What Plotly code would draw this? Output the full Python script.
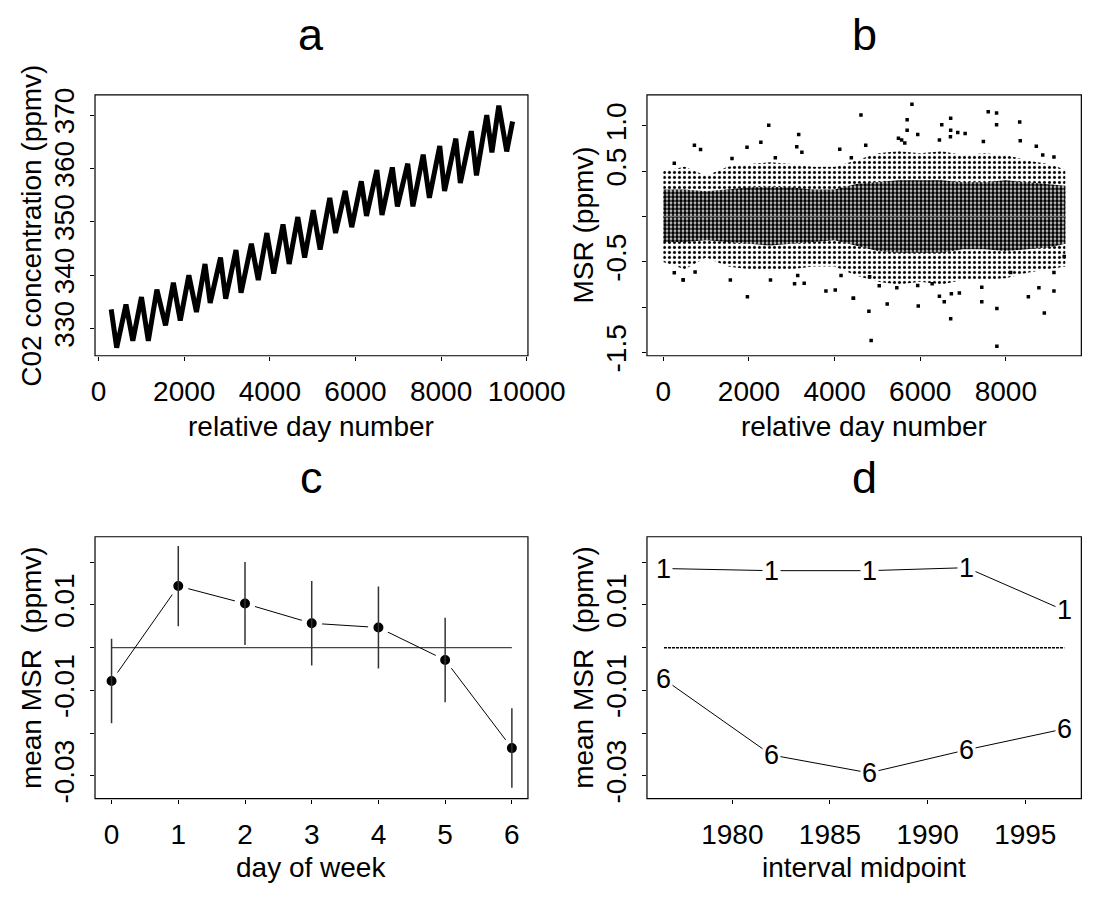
import plotly.graph_objects as go

W, H = 1108, 899
FONT = "Liberation Sans, Arial, Helvetica, sans-serif"

# ---------------- panel a: CO2 concentration (peaks / troughs)
a_day = [295, 423, 640, 800, 1002, 1162, 1362, 1564, 1747, 1908, 2109, 2286, 2486, 2607,
         2848, 2969, 3210, 3328, 3569, 3730, 3931, 4091, 4308, 4452, 4654, 4813, 5014, 5175,
         5400, 5535, 5760, 5913, 6137, 6258, 6499, 6620, 6861, 6980, 7221, 7342, 7582, 7726,
         7969, 8081, 8344, 8449, 8706, 8826, 9067, 9187, 9348, 9533, 9670]
a_co2 = [333.6, 326.4, 334.5, 327.7, 335.9, 327.7, 337.3, 330.6, 338.6, 331.5, 340.0, 333.1,
         342.1, 334.8, 343.3, 335.6, 344.7, 336.7, 345.9, 339.1, 347.9, 340.3, 349.5, 342.1,
         350.9, 343.3, 352.2, 344.8, 354.5, 347.9, 355.8, 349.0, 357.6, 351.1, 359.7, 351.3,
         360.2, 352.9, 360.9, 352.9, 362.6, 354.5, 364.2, 355.8, 365.6, 357.3, 367.0, 358.7,
         370.0, 363.0, 371.8, 363.2, 368.8]
a_xticks = [0, 2000, 4000, 6000, 8000, 10000]
a_xlabels = ["0", "2000", "4000", "6000", "8000", "10000"]
a_yticks = [330, 340, 350, 360, 370]

# ---------------- panel b: MSR scatter (cloud envelopes + individual outliers)
b_bin_day = [0, 500, 1000, 1500, 2000, 2500, 3000, 3500, 4000, 4500, 5000, 5500, 6000,
             6500, 7000, 7500, 8000, 8500, 9000, 9390]
b_core_hi = [0.30, 0.30, 0.28, 0.30, 0.32, 0.33, 0.32, 0.30, 0.30, 0.36, 0.38, 0.40, 0.40,
             0.40, 0.38, 0.38, 0.40, 0.38, 0.36, 0.34]
b_core_lo = [-0.28, -0.28, -0.26, -0.28, -0.30, -0.32, -0.30, -0.28, -0.26, -0.32, -0.38,
             -0.40, -0.40, -0.40, -0.36, -0.36, -0.38, -0.36, -0.34, -0.30]
b_outer_hi = [0.50, 0.55, 0.45, 0.55, 0.58, 0.60, 0.58, 0.55, 0.55, 0.62, 0.70, 0.72, 0.70,
              0.72, 0.68, 0.70, 0.68, 0.62, 0.58, 0.52]
b_outer_lo = [-0.50, -0.58, -0.45, -0.55, -0.58, -0.60, -0.58, -0.55, -0.55, -0.65, -0.72,
              -0.75, -0.72, -0.75, -0.70, -0.70, -0.68, -0.62, -0.58, -0.55]
b_out_day = [2462, 726, 870, 3162, 2278, 1955, 4121, 3117, 3236, 1604, 2616, 256, 4391,
             1964, 4436, 4016, 3798, 465, 256, 1566, 2503, 3065, 3290, 3139, 4151, 742, 465,
             5807, 7589, 7784, 4616, 7784, 8324, 5695, 6712, 5695, 5942, 6503, 6712, 6877,
             7050, 6706, 6449, 5492, 5566, 8337, 7476, 4728, 5640, 8712, 9124, 8862,
             4854, 7791, 4802, 8899, 5229, 5955, 6712, 7791, 7438, 8526, 6449, 6915, 6728,
             4443, 9124, 8773, 5454, 5942, 5043, 4818, 6279, 6562, 7438, 8112, 9124, 9364]
b_out_msr = [1.007, 0.786, 0.74, 0.907, 0.82, 0.765, 0.743, 0.77, 0.71, 0.64, 0.65, 0.59,
             0.65, -0.885, -0.90, -0.81, -0.82, -0.70, -0.62, -0.70, -0.70, -0.74, -0.735,
             -0.65, -0.65, -0.61, -0.696,
             1.24, 1.157, 1.143, 1.12, 1.014, 1.043, 1.07, 1.086, 0.953, 0.907, 1.014, 0.953,
             0.929, 0.918, 0.882, 0.846, 0.864, 0.846, 0.836, 0.829, 0.786, 0.811, 0.775,
             0.657, 0.679,
             -1.367, -1.431, -1.045, -1.064, -0.964, -0.985, -1.128, -1.013, -0.939, -0.885,
             -0.878, -0.842, -0.85, -0.90, -0.82, -0.785, -0.785, -0.76, -0.764, -0.664,
             -0.742, -0.939, -0.778, -0.617, -0.617, -0.44]
b_xticks = [0, 2000, 4000, 6000, 8000, 10000]
b_xlabels = ["0", "2000", "4000", "6000", "8000", "10000"]
b_yticks = [-1.5, -1.0, -0.5, 0.0, 0.5, 1.0]
b_ylabels = ["-1.5", "", "-0.5", "", "0.5", "1.0"]

# ---------------- panel c: mean MSR by day of week
c_day = [0, 1, 2, 3, 4, 5, 6]
c_mean = [-0.0078, 0.0144, 0.0103, 0.0057, 0.0047, -0.0029, -0.0235]
c_err = [0.0099, 0.0094, 0.0097, 0.0099, 0.0096, 0.0099, 0.0093]
cd_yticks = [-0.03, -0.02, -0.01, 0.0, 0.01, 0.02]
cd_ylabels = ["-0.03", "", "-0.01", "", "0.01", ""]

# ---------------- panel d: mean MSR for days 1 and 6 by interval
d_mid = [1976.5, 1982.0, 1987.0, 1992.0, 1997.0]
d_day1 = [0.0185, 0.0180, 0.0180, 0.0187, 0.0087]
d_day6 = [-0.0074, -0.0251, -0.0293, -0.0239, -0.0190]
d_xticks = [1980, 1985, 1990, 1995]


def px(v):
    return v / W


def py(v):
    return 1 - v / H


# plot boxes in pixels (left, right, top, bottom); right panels run past the edge
A_L, A_R, TOP1, BOT1 = 94.6, 544.6, 90.3, 358.3
B_L, B_R = 668.3, 1119.8
TOP2, BOT2 = 544.3, 813.3
TICK = 28
LAB = 28

fig = go.Figure()

# a
fig.add_trace(go.Scatter(x=a_day, y=a_co2, mode="lines",
                         line=dict(color="black", width=5), xaxis="x", yaxis="y"))

# b cloud
fig.add_trace(go.Scatter(x=b_bin_day + b_bin_day[::-1], y=b_outer_hi + b_outer_lo[::-1],
                         mode="lines", fill="toself", line=dict(width=0, color="rgba(0,0,0,0)"),
                         fillcolor="rgba(0,0,0,0)",
                         fillpattern=dict(shape=".", fgcolor="black", bgcolor="rgba(0,0,0,0)",
                                          size=5, solidity=0.3, fillmode="replace"),
                         xaxis="x2", yaxis="y2"))
fig.add_trace(go.Scatter(x=b_bin_day + b_bin_day[::-1], y=b_core_hi + b_core_lo[::-1],
                         mode="lines", fill="toself", line=dict(width=0, color="rgba(0,0,0,0)"),
                         fillcolor="rgba(0,0,0,0)",
                         fillpattern=dict(shape=".", fgcolor="black", bgcolor="white",
                                          size=4, solidity=0.7, fillmode="replace"),
                         xaxis="x2", yaxis="y2"))
fig.add_trace(go.Scatter(x=b_out_day, y=b_out_msr, mode="markers",
                         marker=dict(symbol="square", size=3.5, color="black", line=dict(width=0)),
                         xaxis="x2", yaxis="y2"))

# c
fig.add_trace(go.Scatter(x=c_day, y=c_mean, mode="lines+markers",
                         line=dict(color="black", width=1),
                         marker=dict(size=15.5, color="black", line=dict(color="white", width=5.5)),
                         xaxis="x3", yaxis="y3"))
fig.add_trace(go.Scatter(x=c_day, y=c_mean, mode="markers",
                         marker=dict(size=1, color="rgba(0,0,0,0)"),
                         error_y=dict(type="data", array=c_err, visible=True, width=0,
                                      thickness=1.5, color="#333333"),
                         xaxis="x3", yaxis="y3"))

# d
fig.add_trace(go.Scatter(x=[d_mid[0], d_mid[-1]], y=[0, 0], mode="lines",
                         line=dict(color="black", width=1.5, dash="3px,1px"),
                         xaxis="x4", yaxis="y4"))
for ser in (d_day1, d_day6):
    fig.add_trace(go.Scatter(x=d_mid, y=ser, mode="lines", line=dict(color="black", width=1),
                             xaxis="x4", yaxis="y4"))

annotations = []
for lab, ser in (("1", d_day1), ("6", d_day6)):
    for xv, yv in zip(d_mid, ser):
        annotations.append(dict(x=xv, y=yv, xref="x4", yref="y4", text=lab, showarrow=False,
                                font=dict(size=27, color="black", family=FONT),
                                bgcolor="white", borderpad=1, xanchor="center", yanchor="middle"))

shapes = [
    dict(type="line", xref="x3", yref="y3", x0=c_day[0], x1=c_day[-1], y0=0, y1=0,
         line=dict(color="#444444", width=1.2), layer="below"),
    dict(type="line", xref="x2", yref="y2", x0=b_bin_day[0], x1=b_bin_day[-1], y0=0, y1=0,
         line=dict(color="#777777", width=1), layer="above"),
]
# boxes
for xr, yr, x1 in (("x", "y", 1), ("x2", "y2", (B_R - B_L) / (W - B_L)),
                   ("x3", "y3", 1), ("x4", "y4", (B_R - B_L) / (W - B_L))):
    shapes.append(dict(type="rect", xref=xr + " domain", yref=yr + " domain", x0=0, x1=x1,
                       y0=0, y1=1, line=dict(color="black", width=1.2), fillcolor="rgba(0,0,0,0)",
                       layer="above"))

# panel titles
for t, xc, yc in (("a", (A_L + A_R) / 2, 28), ("b", (B_L + B_R) / 2, 28),
                  ("c", (A_L + A_R) / 2, 483), ("d", (B_L + B_R) / 2, 483)):
    annotations.append(dict(x=px(xc), y=py(yc), xref="paper", yref="paper", text=t,
                            showarrow=False, font=dict(size=45, color="black", family=FONT),
                            xanchor="center", yanchor="middle"))
# axis titles
for t, xc, yc in (("relative day number", (A_L + A_R) / 2, 431),
                  ("relative day number", (B_L + B_R) / 2, 431),
                  ("day of week", (A_L + A_R) / 2, 884),
                  ("interval midpoint", (B_L + B_R) / 2, 884)):
    annotations.append(dict(x=px(xc), y=py(yc), xref="paper", yref="paper", text=t,
                            showarrow=False, font=dict(size=LAB, color="black", family=FONT),
                            xanchor="center", yanchor="middle"))
for t, xc, yc in (("C02 concentration (ppmv)", 28.5, (TOP1 + BOT1) / 2),
                  ("MSR (ppmv)", 602, (TOP1 + BOT1) / 2),
                  ("mean MSR  (ppmv)", 28.5, (TOP2 + BOT2) / 2),
                  ("mean MSR  (ppmv)", 602, (TOP2 + BOT2) / 2)):
    annotations.append(dict(x=px(xc), y=py(yc), xref="paper", yref="paper", text=t,
                            textangle=-90, showarrow=False,
                            font=dict(size=LAB, color="black", family=FONT),
                            xanchor="center", yanchor="middle"))


def axis(**kw):
    d = dict(showgrid=False, zeroline=False, showline=False, ticks="outside", ticklen=4,
             tickcolor="black", tickwidth=1, tickfont=dict(size=TICK, color="black", family=FONT))
    d.update(kw)
    return d


xa_dom = [px(A_L), px(A_R)]
xb_dom = [px(B_L), 1.0]
y1_dom = [py(BOT1), py(TOP1)]
y2_dom = [py(BOT2), py(TOP2)]

fig.update_layout(
    width=W, height=H, margin=dict(l=0, r=0, t=0, b=0),
    paper_bgcolor="white", plot_bgcolor="white", showlegend=False,
    font=dict(family=FONT, color="black"),
    xaxis=axis(domain=xa_dom, anchor="y", range=[-83, 10029], tickvals=a_xticks,
               ticktext=a_xlabels, ticklabelstandoff=7),
    yaxis=axis(domain=y1_dom, anchor="x", range=[324.9, 373.8], tickvals=a_yticks,
               tickangle=-90, ticklabelstandoff=5),
    xaxis2=axis(domain=xb_dom, anchor="y2", range=[-382, 9499], tickvals=b_xticks,
                ticktext=b_xlabels, ticklabelstandoff=7),
    yaxis2=axis(domain=y1_dom, anchor="x2", range=[-1.535, 1.343], tickvals=b_yticks,
                ticktext=b_ylabels, tickangle=-90, ticklabelstandoff=5),
    xaxis3=axis(domain=xa_dom, anchor="y3", range=[-0.248, 6.241], tickvals=c_day,
                ticklabelstandoff=7),
    yaxis3=axis(domain=y2_dom, anchor="x3", range=[-0.03531, 0.02593], tickvals=cd_yticks,
                ticktext=cd_ylabels, tickangle=-90, ticklabelstandoff=5),
    xaxis4=axis(domain=xb_dom, anchor="y4", range=[1975.63, 1997.29], tickvals=d_xticks,
                ticklabelstandoff=7),
    yaxis4=axis(domain=y2_dom, anchor="x4", range=[-0.03531, 0.02593], tickvals=cd_yticks,
                ticktext=cd_ylabels, tickangle=-90, ticklabelstandoff=5),
    shapes=shapes, annotations=annotations,
)

fig.write_html("out.html")
